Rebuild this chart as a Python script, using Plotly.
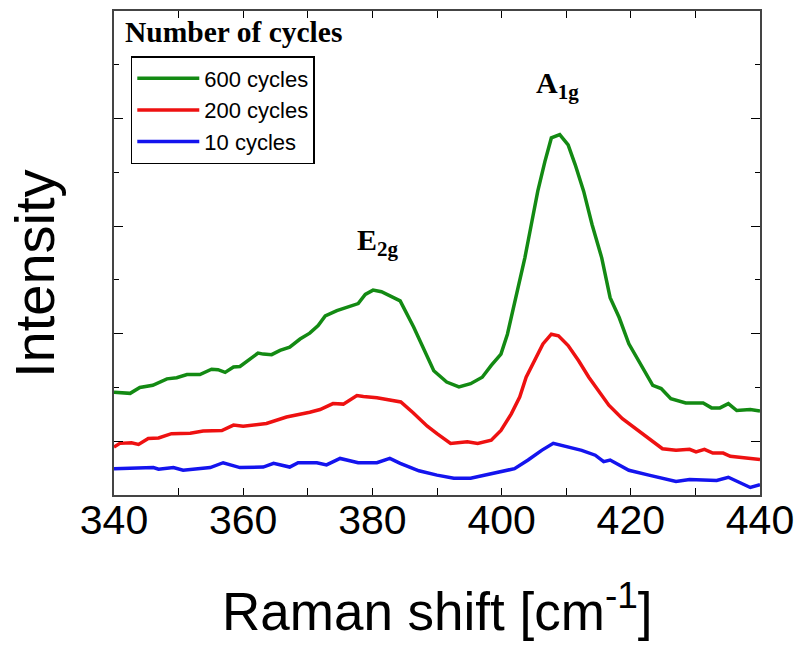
import plotly.graph_objects as go

# Raman shift (cm^-1) and intensity (arb. units)
x_600 = [340, 342.5, 344, 346, 348.2, 349.7, 351.3, 353.3, 355.1, 356.1, 357.2, 358.5, 359.5,
         360.8, 362.3, 363.1, 364.4, 365.7, 367.2, 368.8, 370.3, 371.6, 372.7, 374.5, 376.0,
         377.8, 378.9, 380.1, 381.4, 382.7, 384.3, 386.4, 387.6, 389.5, 391.5, 393.4, 395.2,
         397.0, 398.4, 399.9, 400.9, 402.2, 403.6, 404.6, 405.6, 406.7, 407.7, 409.0, 410.3,
         411.4, 412.7, 414.0, 415.5, 416.8, 418.2, 419.7, 421.5, 423.4, 424.7, 426.2, 428.5,
         431.2, 432.5, 433.8, 435.1, 436.4, 438.5, 440]
y_600 = [1.91, 1.89, 2.00, 2.04, 2.16, 2.18, 2.24, 2.24, 2.34, 2.33, 2.28, 2.38, 2.39,
         2.51, 2.64, 2.62, 2.61, 2.69, 2.75, 2.90, 3.01, 3.15, 3.33, 3.43, 3.49,
         3.56, 3.73, 3.81, 3.78, 3.70, 3.61, 3.12, 2.81, 2.31, 2.10, 2.01, 2.07,
         2.19, 2.41, 2.62, 2.99, 3.67, 4.41, 5.03, 5.65, 6.20, 6.64, 6.70, 6.51,
         6.14, 5.65, 5.03, 4.41, 3.67, 3.30, 2.81, 2.44, 2.04, 1.98, 1.79, 1.71,
         1.71, 1.62, 1.62, 1.70, 1.57, 1.59, 1.56]

x_200 = [340, 340.9, 342.7, 343.8, 345.3, 346.9, 348.9, 351.8, 353.8, 356.7, 358.5, 360.0,
         363.6, 366.7, 370.3, 371.9, 373.9, 375.5, 377.6, 378.6, 380.7, 382.7, 384.4, 386.3,
         388.5, 390.0, 392.1, 394.7, 396.3, 398.4, 399.9, 401.5, 402.8, 403.8, 405.1, 406.4,
         407.7, 408.8, 410.3, 411.9, 413.5, 415.0, 416.6, 418.7, 420.8, 422.8, 424.9, 427.0,
         429.1, 430.1, 431.4, 432.7, 434.3, 435.4, 438.0, 440]
y_200 = [0.89, 0.96, 0.97, 0.94, 1.05, 1.06, 1.14, 1.15, 1.19, 1.20, 1.30, 1.28,
         1.33, 1.45, 1.54, 1.59, 1.70, 1.69, 1.85, 1.83, 1.81, 1.76, 1.73, 1.53,
         1.28, 1.14, 0.96, 0.99, 0.96, 1.02, 1.20, 1.51, 1.82, 2.19, 2.50, 2.81,
         2.99, 2.96, 2.78, 2.50, 2.19, 1.94, 1.67, 1.42, 1.23, 1.05, 0.86, 0.83,
         0.85, 0.80, 0.85, 0.78, 0.78, 0.72, 0.69, 0.66]

x_10 = [340, 346.1, 346.9, 349.2, 350.7, 354.9, 356.9, 359.5, 363.1, 364.7, 367.2, 368.5,
        371.4, 372.9, 375.0, 377.8, 380.7, 382.7, 384.3, 387.2, 390.0, 392.6, 395.2, 398.8,
        402.0, 404.1, 406.2, 408.0, 410.3, 412.4, 414.5, 415.8, 416.8, 419.7, 422.8, 427.0,
        429.1, 433.3, 435.1, 438.5, 440]
y_10 = [0.49, 0.51, 0.48, 0.51, 0.46, 0.51, 0.60, 0.51, 0.52, 0.59, 0.52, 0.60,
        0.60, 0.56, 0.68, 0.60, 0.60, 0.68, 0.59, 0.45, 0.37, 0.31, 0.31, 0.40,
        0.49, 0.65, 0.83, 0.96, 0.89, 0.83, 0.74, 0.62, 0.65, 0.46, 0.37, 0.25,
        0.29, 0.27, 0.33, 0.14, 0.19]

x_ticks = [340, 360, 380, 400, 420, 440]

series = [
    ("600 cycles", x_600, y_600, "#138a13"),
    ("200 cycles", x_200, y_200, "#ee1111"),
    ("10 cycles", x_10, y_10, "#1414ee"),
]

fig = go.Figure()
for name, xs, ys, col in series:
    fig.add_trace(go.Scatter(x=xs, y=ys, mode="lines", name=name,
                             line=dict(color=col, width=3.5)))

fig.update_layout(
    width=794, height=645,
    margin=dict(l=114, r=34, t=11, b=150, autoexpand=False),
    paper_bgcolor="white", plot_bgcolor="white",
    font=dict(family="Liberation Sans, Arial", color="black"),
    legend=dict(x=0.026, y=(495 - 56) / 484, xanchor="left", yanchor="top",
                bordercolor="black", borderwidth=1.5, bgcolor="white",
                font=dict(size=22, family="Liberation Sans, Arial"),
                tracegroupgap=0, itemwidth=62),
    showlegend=True,
)

fig.update_xaxes(range=[340, 440], tickvals=x_ticks, ticks="inside", ticklen=7,
                 tickcolor="black", showline=True, linecolor="#444", linewidth=1.5,
                 mirror="ticks", showgrid=False, zeroline=False, automargin=False,
                 ticklabeloverflow="allow", ticklabelstandoff=-12,
                 tickfont=dict(size=41, family="Liberation Sans, Arial"),
                 minor=dict(ticks="inside", ticklen=7, dtick=10, tick0=340, tickcolor="black"))
fig.update_yaxes(range=[0, 9], tick0=1, dtick=2, ticks="inside", ticklen=9,
                 tickcolor="black", showticklabels=False, showline=True, linecolor="#444",
                 linewidth=1.5, mirror="ticks", showgrid=False, zeroline=False, automargin=False,
                 minor=dict(ticks="inside", ticklen=5, dtick=1, tick0=0, tickcolor="black"))

annotations = [
    dict(text="Raman shift [cm<sup>-1</sup>]", xref="paper", yref="paper",
         x=0.5, y=(495 - 607) / 484, xanchor="center", yanchor="middle", showarrow=False,
         font=dict(size=53, family="Liberation Sans, Arial", color="black")),
    dict(text="Intensity", xref="paper", yref="paper", textangle=-90,
         x=(34 - 114) / 646, y=(495 - 274) / 484, xanchor="center", yanchor="middle",
         showarrow=False, font=dict(size=56, family="Liberation Sans, Arial", color="black")),
    dict(text="<b>Number of cycles</b>", xref="paper", yref="paper",
         x=(123 - 114) / 646, y=(495 - 32) / 484, xanchor="left", yanchor="middle",
         showarrow=False, font=dict(size=29.5, family="Liberation Serif, Times New Roman", color="black")),
    dict(text="<b>A<sub>1g</sub></b>", xref="x", yref="y", x=408.6, y=7.63,
         xanchor="center", yanchor="middle", showarrow=False,
         font=dict(size=30, family="Liberation Serif, Times New Roman", color="black")),
    dict(text="<b>E<sub>2g</sub></b>", xref="x", yref="y", x=380.9, y=4.70,
         xanchor="center", yanchor="middle", showarrow=False,
         font=dict(size=30, family="Liberation Serif, Times New Roman", color="black")),
]
fig.update_layout(annotations=annotations)

fig.write_html("out.html", config={"displayModeBar": False},
               post_script="document.body.style.margin='0px';")
